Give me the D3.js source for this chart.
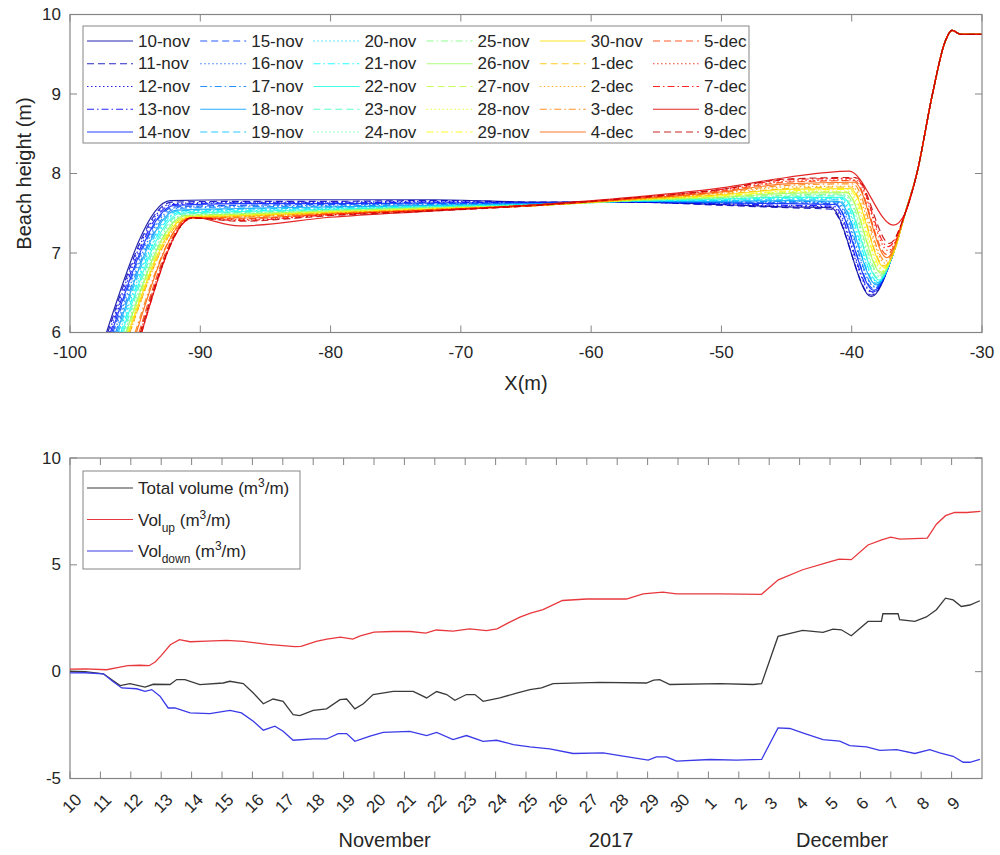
<!DOCTYPE html>
<html>
<head>
<meta charset="utf-8">
<script src="https://cdn.jsdelivr.net/npm/d3@7"></script>
<style>
  body { margin: 0; background: #fff; }
  svg text { font-family: "Liberation Sans", Arial, Helvetica, sans-serif; fill: #262626; }
</style>
</head>
<body>
<svg id="chart" width="1000" height="855"></svg>
<script>
// ---------- Beach profiles (one per survey day) ----------
const dateLabels = ["10-nov","11-nov","12-nov","13-nov","14-nov","15-nov","16-nov","17-nov","18-nov","19-nov",
  "20-nov","21-nov","22-nov","23-nov","24-nov","25-nov","26-nov","27-nov","28-nov","29-nov",
  "30-nov","1-dec","2-dec","3-dec","4-dec","5-dec","6-dec","7-dec","8-dec","9-dec"];

// seaward toe (x where the profile crosses 6 m)
const toeX   = [-97.2,-97.1,-97.0,-96.9,-96.8,-96.7,-96.6,-96.5,-96.4,-96.3,-96.2,-96.1,-96.0,-95.9,-95.8,
                -95.7,-95.7,-95.6,-95.6,-95.5,-95.5,-95.4,-95.4,-95.0,-94.9,-94.7,-94.6,-94.5,-94.5,-94.6];
// crest of the lower slope
const crestX = [-92.3,-92.2,-92.2,-92.1,-92.0,-92.0,-91.9,-91.8,-91.8,-91.7,-91.6,-91.6,-91.5,-91.4,-91.3,
                -91.2,-91.2,-91.1,-91.1,-91.0,-91.0,-90.9,-90.9,-90.8,-90.8,-90.7,-90.7,-90.6,-90.6,-90.6];
const crestH = [7.66,7.64,7.62,7.61,7.60,7.58,7.57,7.56,7.54,7.53,7.52,7.51,7.50,7.49,7.48,
                7.47,7.47,7.46,7.46,7.45,7.45,7.44,7.44,7.44,7.44,7.44,7.44,7.44,7.45,7.44];
// terrace heights at fixed cross-shore positions
const terraceX = [-87, -80, -72, -64, -57, -50, -45];
const h87 = [7.67,7.65,7.64,7.63,7.62,7.60,7.59,7.58,7.56,7.55,7.54,7.53,7.52,7.51,7.50,
             7.49,7.49,7.48,7.48,7.47,7.47,7.46,7.46,7.45,7.44,7.43,7.42,7.41,7.34,7.40];
const h80 = [7.67,7.65,7.64,7.63,7.62,7.61,7.60,7.59,7.58,7.57,7.56,7.55,7.55,7.54,7.54,
             7.53,7.53,7.52,7.52,7.51,7.51,7.50,7.50,7.50,7.49,7.49,7.48,7.48,7.45,7.47];
const h72 = [7.67,7.66,7.65,7.64,7.63,7.62,7.62,7.61,7.60,7.60,7.59,7.59,7.58,7.58,7.57,
             7.57,7.57,7.56,7.56,7.56,7.55,7.55,7.55,7.55,7.54,7.54,7.54,7.54,7.53,7.53];
const h64 = [7.64,7.64,7.63,7.63,7.63,7.62,7.62,7.62,7.62,7.61,7.61,7.61,7.61,7.61,7.60,
             7.60,7.60,7.60,7.60,7.60,7.60,7.60,7.60,7.60,7.60,7.60,7.60,7.61,7.61,7.60];
const h57 = [7.64,7.64,7.64,7.64,7.65,7.65,7.65,7.65,7.65,7.65,7.65,7.65,7.66,7.66,7.66,
             7.66,7.66,7.66,7.67,7.67,7.67,7.67,7.67,7.68,7.68,7.68,7.69,7.69,7.70,7.69];
const h50 = [7.61,7.60,7.61,7.62,7.63,7.63,7.64,7.64,7.65,7.66,7.66,7.67,7.68,7.68,7.69,
             7.70,7.70,7.71,7.72,7.72,7.73,7.74,7.75,7.76,7.77,7.78,7.79,7.80,7.82,7.80];
const h45 = [7.58,7.57,7.59,7.60,7.62,7.63,7.64,7.65,7.66,7.67,7.68,7.69,7.70,7.71,7.72,
             7.73,7.75,7.76,7.77,7.78,7.80,7.81,7.83,7.85,7.87,7.89,7.90,7.92,7.95,7.93];
// berm edge (start of the drop into the runnel)
const breakX = [-41.6,-41.6,-41.5,-41.4,-41.3,-41.3,-41.2,-41.1,-41.0,-41.0,-40.9,-40.8,-40.7,-40.7,-40.6,
                -40.5,-40.4,-40.4,-40.3,-40.2,-40.1,-40.1,-40.0,-39.9,-39.8,-39.8,-39.7,-39.7,-40.2,-39.7];
const breakH = [7.57,7.55,7.58,7.59,7.61,7.62,7.63,7.64,7.65,7.67,7.68,7.69,7.70,7.72,7.73,
                7.74,7.76,7.77,7.78,7.80,7.81,7.83,7.84,7.87,7.89,7.91,7.92,7.94,8.03,7.95];
// runnel bottom
const troughX = [-38.5,-38.5,-38.4,-38.4,-38.3,-38.3,-38.2,-38.2,-38.1,-38.1,-38.0,-38.0,-37.9,-37.9,-37.8,
                 -37.8,-37.7,-37.7,-37.6,-37.6,-37.5,-37.5,-37.4,-37.4,-37.3,-37.3,-37.2,-37.2,-36.8,-37.1];
const troughH = [6.45,6.47,6.50,6.51,6.53,6.55,6.57,6.58,6.60,6.62,6.63,6.64,6.66,6.68,6.70,
                 6.72,6.74,6.76,6.78,6.80,6.82,6.84,6.87,6.90,6.94,6.98,7.03,7.08,7.35,7.12];
// landward face up to the dune top (common to all surveys)
const riseX = [-36.8, -35.9, -35.0, -33.8, -32.85, -32.3, -31.6, -30];
const riseH = [7.00, 7.50, 8.00, 9.00, 9.65, 9.80, 9.75, 9.75];

const xTicksTop = [-100, -90, -80, -70, -60, -50, -40, -30];
const yTicksTop = [6, 7, 8, 9, 10];

// ---------- Volume change series (days after 10 Nov 2017) ----------
const volTotal = [[0,0.02],[0.5,0.0],[1.1,-0.1],[1.4,-0.4],[1.65,-0.65],[1.97,-0.56],[2.47,-0.72],[2.74,-0.59],
  [3.29,-0.6],[3.51,-0.37],[3.78,-0.37],[4.27,-0.61],[5.04,-0.53],[5.26,-0.45],[5.7,-0.56],[6.03,-1.0],
  [6.36,-1.5],[6.68,-1.28],[7.01,-1.39],[7.34,-2.01],[7.56,-2.06],[8.0,-1.81],[8.44,-1.74],[8.88,-1.31],
  [9.1,-1.28],[9.37,-1.74],[9.65,-1.5],[9.97,-1.07],[10.63,-0.92],[11.29,-0.92],[11.73,-1.23],[12.06,-0.93],
  [12.39,-1.07],[12.66,-1.34],[13.04,-1.07],[13.32,-1.07],[13.59,-1.39],[14.14,-1.23],[14.69,-1.0],
  [15.13,-0.84],[15.51,-0.76],[15.89,-0.56],[17.43,-0.5],[18.96,-0.53],[19.2,-0.4],[19.4,-0.37],
  [19.73,-0.6],[21.37,-0.56],[22.47,-0.6],[22.75,-0.56],[23.29,1.65],[24.1,1.93],[24.77,1.84],[25.1,1.99],
  [25.37,1.96],[25.7,1.68],[26.25,2.35],[26.69,2.35],[26.74,2.71],[27.24,2.71],[27.29,2.43],[27.79,2.35],
  [28.17,2.56],[28.5,2.9],[28.8,3.44],[29.05,3.36],[29.32,3.05],[29.6,3.12],[29.93,3.32]];
const volUp = [[0,0.12],[0.5,0.13],[1.2,0.09],[1.6,0.2],[1.9,0.28],[2.3,0.3],[2.6,0.28],[2.8,0.45],[3.0,0.75],
  [3.3,1.26],[3.6,1.5],[3.95,1.4],[4.5,1.43],[5.15,1.46],[5.7,1.42],[6.1,1.35],[6.5,1.28],[7.0,1.22],
  [7.4,1.17],[7.6,1.18],[8.1,1.42],[8.45,1.52],[8.9,1.62],[9.3,1.52],[9.55,1.67],[10.0,1.85],[10.6,1.88],
  [11.2,1.88],[11.7,1.8],[12.05,1.95],[12.6,1.9],[13.15,2.0],[13.7,1.92],[14.05,2.0],[14.4,2.27],[14.8,2.55],
  [15.15,2.74],[15.56,2.9],[16.2,3.33],[17.0,3.4],[18.3,3.4],[18.85,3.64],[19.5,3.72],[19.95,3.64],
  [21.4,3.64],[22.75,3.62],[23.3,4.3],[24.1,4.77],[24.9,5.1],[25.3,5.27],[25.7,5.24],[26.25,5.93],
  [26.7,6.17],[27.0,6.3],[27.3,6.2],[28.2,6.25],[28.5,6.9],[28.8,7.3],[29.1,7.45],[29.5,7.45],[29.95,7.5]];
const volDown = [[0,-0.06],[0.5,-0.05],[1.1,-0.1],[1.4,-0.45],[1.7,-0.76],[2.19,-0.8],[2.47,-0.92],[2.69,-0.84],
  [2.96,-1.15],[3.23,-1.7],[3.45,-1.7],[3.95,-1.93],[4.6,-1.96],[5.26,-1.81],[5.64,-1.93],[6.03,-2.32],
  [6.36,-2.74],[6.74,-2.55],[7.01,-2.79],[7.34,-3.21],[8.0,-3.15],[8.44,-3.15],[8.82,-2.9],[9.1,-2.9],
  [9.37,-3.26],[9.87,-3.02],[10.3,-2.84],[11.18,-2.79],[11.73,-2.99],[12.06,-2.84],[12.6,-3.18],[13.04,-2.99],
  [13.59,-3.26],[14.03,-3.21],[14.58,-3.41],[15.13,-3.52],[15.78,-3.61],[16.55,-3.83],[17.54,-3.8],
  [18.09,-3.93],[19.02,-4.14],[19.29,-3.99],[19.62,-3.99],[19.95,-4.19],[21.05,-4.11],[21.93,-4.14],
  [22.75,-4.11],[23.29,-2.63],[23.68,-2.66],[24.1,-2.86],[24.77,-3.18],[25.32,-3.25],[25.65,-3.46],
  [26.2,-3.52],[26.64,-3.68],[27.19,-3.65],[27.79,-3.83],[28.28,-3.65],[28.61,-3.8],[29.05,-3.96],
  [29.38,-4.24],[29.6,-4.24],[29.93,-4.11]];
const yTicksBottom = [-5, 0, 5, 10];
const monthLabels = [["November", 10.35], ["2017", 17.8], ["December", 25.4]];

// ---------- drawing ----------
const svg = d3.select("#chart");
const axisColor = "#858585";
const tickLen = 7;

// MATLAB jet colormap, n levels
function jet(n) {
  const m = Math.ceil(n / 4);
  const u = [];
  for (let i = 1; i <= m; i++) u.push(i / m);
  for (let i = 0; i < m - 1; i++) u.push(1);
  for (let i = m; i >= 1; i--) u.push(i / m);
  const g0 = Math.ceil(m / 2) - (n % 4 === 1 ? 1 : 0);
  const r = new Array(n).fill(0), gg = new Array(n).fill(0), b = new Array(n).fill(0);
  u.forEach((v, k) => {
    const gi = g0 + k + 1, ri = gi + m, bi = gi - m;
    if (gi >= 1 && gi <= n) gg[gi - 1] = v;
    if (ri >= 1 && ri <= n) r[ri - 1] = v;
    if (bi >= 1 && bi <= n) b[bi - 1] = v;
  });
  return d3.range(n).map(i => d3.rgb(r[i] * 255, gg[i] * 255, b[i] * 255).formatHex());
}
const colors = jet(dateLabels.length);
const dashes = [null, "7,4", "1.5,2.5", "7,3,1.5,3"];

function frame(g, x0, x1, y0, y1) {
  g.append("rect").attr("x", x0).attr("y", y0).attr("width", x1 - x0).attr("height", y1 - y0)
    .attr("fill", "none").attr("stroke", axisColor).attr("stroke-width", 1.2);
}
function xTickMarks(g, xs, y0, y1) {
  xs.forEach(x => {
    g.append("line").attr("x1", x).attr("x2", x).attr("y1", y1).attr("y2", y1 - tickLen).attr("stroke", axisColor);
    g.append("line").attr("x1", x).attr("x2", x).attr("y1", y0).attr("y2", y0 + tickLen).attr("stroke", axisColor);
  });
}
function yTickMarks(g, ys, x0, x1) {
  ys.forEach(y => {
    g.append("line").attr("y1", y).attr("y2", y).attr("x1", x0).attr("x2", x0 + tickLen).attr("stroke", axisColor);
    g.append("line").attr("y1", y).attr("y2", y).attr("x1", x1).attr("x2", x1 - tickLen).attr("stroke", axisColor);
  });
}

// ===== Top panel: beach profiles =====
const T = { l: 70, r: 982, t: 14.5, b: 332.5 };
const xP = d3.scaleLinear().domain([-100, -30]).range([T.l, T.r]);
const yP = d3.scaleLinear().domain([6, 10]).range([T.b, T.t]);
const topG = svg.append("g");

svg.append("defs").append("clipPath").attr("id", "clipTop")
  .append("rect").attr("x", T.l).attr("y", T.t).attr("width", T.r - T.l).attr("height", T.b - T.t);

const terraceCols = [h87, h80, h72, h64, h57, h50, h45];
const profiles = dateLabels.map((lab, i) => {
  const pts = [[toeX[i], 6], [crestX[i], crestH[i]]];
  terraceX.forEach((x, k) => pts.push([x, terraceCols[k][i]]));
  pts.push([breakX[i], breakH[i]]);
  pts.push([troughX[i], troughH[i]]);
  riseX.forEach((x, k) => {
    if (x > troughX[i] + 0.5 && riseH[k] > troughH[i] + 0.1) pts.push([x, riseH[k]]);
  });
  return { label: lab, pts, color: colors[i], dash: dashes[i % 4] };
});

const profLine = d3.line().x(d => xP(d[0])).y(d => yP(d[1])).curve(d3.curveMonotoneX);
topG.append("g").attr("clip-path", "url(#clipTop)")
  .selectAll("path").data(profiles).join("path")
  .attr("d", d => profLine(d.pts))
  .attr("fill", "none")
  .attr("stroke", d => d.color)
  .attr("stroke-width", 1.2)
  .attr("stroke-opacity", 0.85)
  .attr("stroke-dasharray", d => d.dash);

frame(topG, T.l, T.r, T.t, T.b);
xTickMarks(topG, xTicksTop.map(xP), T.t, T.b);
yTickMarks(topG, yTicksTop.map(yP), T.l, T.r);
topG.selectAll("text.xt").data(xTicksTop).join("text")
  .attr("x", d => xP(d)).attr("y", T.b + 20).attr("text-anchor", "middle")
  .attr("dominant-baseline", "central").attr("font-size", 17).text(d => d);
topG.selectAll("text.yt").data(yTicksTop).join("text")
  .attr("x", T.l - 9).attr("y", d => yP(d)).attr("text-anchor", "end")
  .attr("dominant-baseline", "central").attr("font-size", 17).text(d => d);
topG.append("text").attr("x", (T.l + T.r) / 2).attr("y", 383).attr("text-anchor", "middle")
  .attr("dominant-baseline", "central").attr("font-size", 20).text("X(m)");
topG.append("text").attr("transform", `translate(24,${(T.t + T.b) / 2}) rotate(-90)`)
  .attr("text-anchor", "middle").attr("dominant-baseline", "central").attr("font-size", 20)
  .text("Beach height (m)");

// legend: 6 columns x 5 rows, column-major order
const lg = topG.append("g");
lg.append("rect").attr("x", 83).attr("y", 26).attr("width", 666).attr("height", 117)
  .attr("fill", "#fff").attr("stroke", axisColor).attr("stroke-width", 1);
profiles.forEach((p, i) => {
  const col = Math.floor(i / 5), row = i % 5;
  const x = 87 + col * 113.2, y = 41 + row * 22.75;
  lg.append("line").attr("x1", x).attr("x2", x + 46).attr("y1", y).attr("y2", y)
    .attr("stroke", p.color).attr("stroke-width", 1.2).attr("stroke-opacity", 0.85)
    .attr("stroke-dasharray", p.dash);
  lg.append("text").attr("x", x + 51).attr("y", y).attr("dominant-baseline", "central")
    .attr("font-size", 17).text(p.label);
});

// ===== Bottom panel: volume changes =====
const B = { l: 70, r: 982, t: 458, b: 778.5 };
const t0 = new Date(Date.UTC(2017, 10, 10));
const t1 = new Date(Date.UTC(2017, 11, 10));
const dayToDate = d => new Date(t0.getTime() + d * 864e5);
const xT = d3.scaleUtc().domain([t0, t1]).range([B.l, B.r]);
const yV = d3.scaleLinear().domain([-5, 10]).range([B.b, B.t]);
const botG = svg.append("g");

const dayTicks = d3.utcDay.range(t0, t1);
frame(botG, B.l, B.r, B.t, B.b);
xTickMarks(botG, dayTicks.map(xT), B.t, B.b);
yTickMarks(botG, yTicksBottom.map(yV), B.l, B.r);

const volLine = d3.line().x(d => xT(dayToDate(d[0]))).y(d => yV(d[1]));
const series = [
  { data: volTotal, color: "#3a3a3a" },
  { data: volUp, color: "#e8383d" },
  { data: volDown, color: "#3a3ae8" }
];
botG.selectAll("path.vol").data(series).join("path")
  .attr("d", d => volLine(d.data)).attr("fill", "none")
  .attr("stroke", d => d.color).attr("stroke-width", 1.3);

botG.selectAll("text.dt").data(dayTicks).join("text")
  .attr("transform", d => `translate(${xT(d) + 2},${B.b + 25}) rotate(-45)`)
  .attr("text-anchor", "middle").attr("dominant-baseline", "central").attr("font-size", 17)
  .text(d3.utcFormat("%-d"));
botG.selectAll("text.yt").data(yTicksBottom).join("text")
  .attr("x", B.l - 9).attr("y", d => yV(d)).attr("text-anchor", "end")
  .attr("dominant-baseline", "central").attr("font-size", 17).text(d => d);
botG.selectAll("text.month").data(monthLabels).join("text")
  .attr("x", d => xT(dayToDate(d[1]))).attr("y", 840).attr("text-anchor", "middle")
  .attr("dominant-baseline", "central").attr("font-size", 20).text(d => d[0]);

// legend with sub/superscripts
const bl = botG.append("g");
bl.append("rect").attr("x", 83).attr("y", 471).attr("width", 217).attr("height", 98)
  .attr("fill", "#fff").attr("stroke", axisColor).attr("stroke-width", 1);
const legendRows = [
  { color: "#3a3a3a", parts: [["Total volume (m", 0], ["3", -1], ["/m)", 0]] },
  { color: "#e8383d", parts: [["Vol", 0], ["up", 1], [" (m", 0], ["3", -1], ["/m)", 0]] },
  { color: "#3a3ae8", parts: [["Vol", 0], ["down", 1], [" (m", 0], ["3", -1], ["/m)", 0]] }
];
legendRows.forEach((r, i) => {
  const y = 488 + i * 31.5;
  bl.append("line").attr("x1", 87).attr("x2", 133).attr("y1", y).attr("y2", y)
    .attr("stroke", r.color).attr("stroke-width", 1.2);
  const t = bl.append("text").attr("x", 138).attr("y", y + 6).attr("font-size", 17);
  let prev = 0;
  r.parts.forEach(([s, pos]) => {
    const shift = pos === -1 ? -7 : pos === 1 ? 6 : 0;
    t.append("tspan").attr("dy", shift - prev).attr("font-size", pos === 0 ? 17 : 12).text(s);
    prev = shift;
  });
});
</script>
</body>
</html>
